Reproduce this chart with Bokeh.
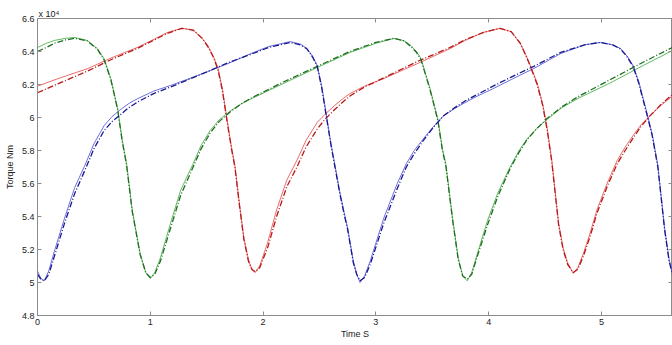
from bokeh.plotting import figure
from bokeh.models import FixedTicker, LinearAxis, Range1d
from bokeh.embed import file_html
from bokeh.resources import INLINE

# ---- data (torque in units of 1e4 Nm, time in s) ----
red_t = [0.00, 0.20, 0.44, 0.65, 0.89, 1.05, 1.15, 1.28, 1.38, 1.46, 1.51, 1.56, 1.60, 1.64,
         1.68, 1.72, 1.75, 1.79, 1.83, 1.87, 1.90, 1.93, 1.97, 2.04, 2.12, 2.21, 2.30, 2.38,
         2.48, 2.55, 2.63, 2.70, 2.77, 2.90, 3.07, 3.37, 3.66, 3.79, 3.95, 4.10, 4.20, 4.28,
         4.33, 4.37, 4.43, 4.48, 4.52, 4.56, 4.59, 4.62, 4.66, 4.70, 4.75, 4.79, 4.84, 4.90,
         4.96, 5.05, 5.14, 5.21, 5.28, 5.35, 5.43, 5.53, 5.63]
red_solid = [6.19, 6.24, 6.295, 6.36, 6.426, 6.48, 6.515, 6.541, 6.53, 6.48, 6.436, 6.37, 6.30, 6.17,
             5.99, 5.82, 5.71, 5.48, 5.27, 5.14, 5.08, 5.06, 5.10, 5.24, 5.44, 5.62, 5.74, 5.86,
             5.97, 6.02, 6.07, 6.11, 6.145, 6.19, 6.236, 6.327, 6.418, 6.467, 6.515, 6.541, 6.52, 6.45,
             6.38, 6.315, 6.21, 6.08, 5.93, 5.74, 5.55, 5.36, 5.21, 5.12, 5.055, 5.09, 5.175, 5.30,
             5.44, 5.60, 5.74, 5.82, 5.89, 5.955, 6.01, 6.075, 6.13]
red_dash = [6.15, 6.21, 6.28, 6.35, 6.42, 6.475, 6.51, 6.54, 6.53, 6.48, 6.43, 6.365, 6.29, 6.16,
            5.98, 5.81, 5.70, 5.47, 5.26, 5.13, 5.08, 5.065, 5.09, 5.21, 5.40, 5.58, 5.70, 5.82,
            5.93, 5.99, 6.045, 6.09, 6.13, 6.185, 6.24, 6.34, 6.425, 6.47, 6.515, 6.54, 6.52, 6.45,
            6.375, 6.31, 6.20, 6.07, 5.92, 5.73, 5.54, 5.35, 5.20, 5.11, 5.06, 5.08, 5.16, 5.28,
            5.42, 5.58, 5.72, 5.80, 5.875, 5.945, 6.01, 6.08, 6.14]

blue_t = [0.00, 0.03, 0.06, 0.10, 0.15, 0.24, 0.33, 0.42, 0.50, 0.59, 0.66, 0.74, 0.81, 0.89,
          1.03, 1.18, 1.48, 1.70, 1.90, 2.05, 2.24, 2.33, 2.39, 2.44, 2.48, 2.52, 2.56, 2.60,
          2.64, 2.68, 2.72, 2.75, 2.80, 2.83, 2.86, 2.90, 2.95, 3.07, 3.19, 3.27, 3.34, 3.42,
          3.51, 3.60, 3.70, 3.79, 3.90, 4.04, 4.20, 4.40, 4.64, 4.85, 4.99, 5.10, 5.17, 5.23,
          5.28, 5.33, 5.37, 5.41, 5.45, 5.50, 5.53, 5.56, 5.60, 5.63]
blue_solid = [5.07, 5.025, 5.01, 5.07, 5.19, 5.39, 5.576, 5.71, 5.84, 5.95, 6.005, 6.05, 6.085, 6.115,
              6.16, 6.194, 6.27, 6.33, 6.39, 6.43, 6.46, 6.445, 6.418, 6.37, 6.315, 6.19, 6.02, 5.85,
              5.70, 5.55, 5.42, 5.33, 5.13, 5.05, 5.00, 5.04, 5.13, 5.39, 5.60, 5.72, 5.80, 5.87,
              5.945, 6.01, 6.055, 6.09, 6.13, 6.175, 6.23, 6.297, 6.388, 6.44, 6.455, 6.44, 6.418, 6.37,
              6.315, 6.22, 6.115, 6.01, 5.90, 5.71, 5.52, 5.33, 5.14, 5.05]
blue_dash = [5.05, 5.02, 5.01, 5.05, 5.16, 5.36, 5.54, 5.68, 5.81, 5.92, 5.975, 6.02, 6.06, 6.095,
             6.145, 6.185, 6.27, 6.335, 6.385, 6.425, 6.455, 6.44, 6.415, 6.365, 6.31, 6.18, 6.01, 5.84,
             5.69, 5.54, 5.41, 5.32, 5.12, 5.05, 5.01, 5.03, 5.11, 5.36, 5.57, 5.70, 5.78, 5.86,
             5.94, 6.01, 6.06, 6.10, 6.14, 6.19, 6.245, 6.31, 6.395, 6.44, 6.455, 6.44, 6.415, 6.365,
             6.31, 6.21, 6.105, 6.00, 5.89, 5.70, 5.51, 5.32, 5.13, 5.05]

green_t = [0.00, 0.08, 0.15, 0.25, 0.33, 0.44, 0.53, 0.59, 0.65, 0.71, 0.75, 0.79, 0.84, 0.91,
           0.96, 1.00, 1.04, 1.09, 1.18, 1.27, 1.38, 1.45, 1.53, 1.61, 1.71, 1.80, 1.90, 2.18,
           2.48, 2.77, 3.00, 3.16, 3.25, 3.31, 3.36, 3.40, 3.48, 3.55, 3.59, 3.62, 3.68, 3.73,
           3.77, 3.81, 3.85, 3.90, 3.99, 4.08, 4.19, 4.27, 4.34, 4.43, 4.52, 4.65, 4.79, 5.08,
           5.37, 5.63]
green_solid = [6.424, 6.45, 6.467, 6.48, 6.485, 6.467, 6.418, 6.357, 6.236, 6.055, 5.87, 5.72, 5.44, 5.175,
               5.06, 5.024, 5.06, 5.15, 5.36, 5.56, 5.72, 5.83, 5.92, 5.985, 6.04, 6.08, 6.115, 6.206,
               6.303, 6.394, 6.45, 6.479, 6.465, 6.436, 6.40, 6.357, 6.176, 5.99, 5.81, 5.72, 5.39, 5.15,
               5.04, 5.01, 5.06, 5.175, 5.376, 5.54, 5.70, 5.80, 5.87, 5.935, 5.99, 6.06, 6.115, 6.21,
               6.315, 6.406]
green_dash = [6.40, 6.425, 6.45, 6.47, 6.48, 6.465, 6.415, 6.35, 6.23, 6.05, 5.86, 5.71, 5.43, 5.17,
              5.06, 5.03, 5.05, 5.13, 5.33, 5.53, 5.70, 5.81, 5.905, 5.975, 6.035, 6.08, 6.12, 6.215,
              6.31, 6.40, 6.455, 6.48, 6.465, 6.43, 6.395, 6.35, 6.17, 5.98, 5.80, 5.71, 5.38, 5.14,
              5.04, 5.02, 5.05, 5.16, 5.35, 5.52, 5.69, 5.79, 5.865, 5.935, 5.995, 6.065, 6.125, 6.23,
              6.335, 6.425]

x_ticks = [0, 1, 2, 3, 4, 5]
y_ticks = [4.8, 5.0, 5.2, 5.4, 5.6, 5.8, 6.0, 6.2, 6.4, 6.6]
y_tick_labels = ["4.8", "5", "5.2", "5.4", "5.6", "5.8", "6", "6.2", "6.4", "6.6"]
exponent_text = "x 10\u2074"

FONT = "Liberation Sans"
AXIS_COLOR = "#8c8c8c"
TEXT_COLOR = "#222222"

p = figure(width=672, height=345, output_backend="svg", toolbar_location=None,
           x_range=Range1d(0, 5.63), y_range=Range1d(4.8, 6.6),
           min_border_left=37, min_border_right=0, min_border_top=18, min_border_bottom=30)
p.background_fill_color = "white"
p.border_fill_color = "white"
p.outline_line_color = AXIS_COLOR
p.grid.visible = False

# exponent marker shown top-left (MATLAB style)
p.title.text = exponent_text
p.title.align = "left"
p.title.text_font = FONT
p.title.text_font_size = "9px"
p.title.text_font_style = "normal"
p.title.text_color = TEXT_COLOR
p.title.standoff = 0
p.title.offset = 1


def style_axis(ax):
    ax.axis_line_color = AXIS_COLOR
    ax.major_tick_line_color = AXIS_COLOR
    ax.major_tick_in = 4
    ax.major_tick_out = 0
    ax.minor_tick_line_color = None
    ax.major_label_text_font = FONT
    ax.major_label_text_font_size = "9px"
    ax.major_label_text_color = TEXT_COLOR
    ax.axis_label_text_font = FONT
    ax.axis_label_text_font_size = "9px"
    ax.axis_label_text_font_style = "normal"
    ax.axis_label_text_color = TEXT_COLOR


xa = p.xaxis[0]
xa.ticker = FixedTicker(ticks=x_ticks)
xa.axis_label = "Time S"
xa.major_label_standoff = 3
xa.axis_label_standoff = 1
style_axis(xa)

ya = p.yaxis[0]
ya.ticker = FixedTicker(ticks=y_ticks)
ya.major_label_overrides = {v: s for v, s in zip(y_ticks, y_tick_labels)}
ya.axis_label = "Torque Nm"
ya.major_label_standoff = 3
ya.axis_label_standoff = 4
style_axis(ya)

# mirrored inward ticks on top and right (no labels)
top = LinearAxis(ticker=FixedTicker(ticks=x_ticks))
style_axis(top)
top.major_label_overrides = {v: "" for v in x_ticks}
top.major_label_standoff = 0
top.major_label_text_font_size = "2px"
p.add_layout(top, "above")
right = LinearAxis(ticker=FixedTicker(ticks=y_ticks))
style_axis(right)
right.major_label_overrides = {v: "" for v in y_ticks}
right.major_label_standoff = 0
right.major_label_text_font_size = "2px"
p.add_layout(right, "right")

series = [
    (red_t, red_solid, red_dash, "#e85050", "#b81818"),
    (green_t, green_solid, green_dash, "#45ad45", "#1f6e1f"),
    (blue_t, blue_solid, blue_dash, "#5555d8", "#18188f"),
]
for t, s, d, c1, c2 in series:
    p.line(t, s, line_color=c1, line_width=1, line_alpha=0.85)
for t, s, d, c1, c2 in series:
    p.line(t, d, line_color=c2, line_width=1.3, line_dash="6 2 1 2")

open("out.html", "w").write(file_html(p, INLINE))
